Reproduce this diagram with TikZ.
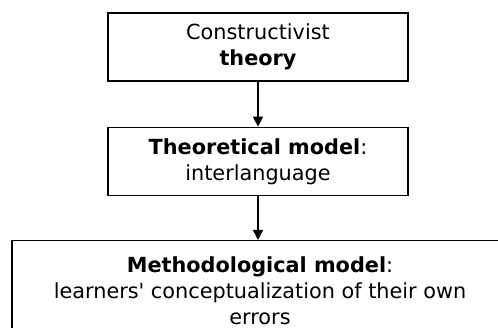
\documentclass[tikz,border=0pt]{standalone}
\usepackage{fontspec}
\setmainfont{DejaVu Sans}
\usetikzlibrary{arrows.meta, positioning}

\begin{document}
\begin{tikzpicture}[
    x=1pt, y=1pt,
    node distance=45pt,
    block/.style={rectangle, draw, line width=1.3pt, minimum width=300pt, minimum height=68pt, align=center, inner sep=0pt, font=\fontsize{20.8}{26}\selectfont},
    arrow/.style={-{Triangle[length=10pt, width=10pt]}, line width=1.3pt}
]
\useasboundingbox (0,0) rectangle (498,-328);
\clip (0,0) rectangle (498,-328);

% Theory
\node[block] (theory) at (258,-47) {Constructivist\\\textbf{theory}};

% Theoretical model
\node[block, below=45pt of theory] (theomodel) {\textbf{Theoretical model}:\\interlanguage};

% Methodological model
\node[block, anchor=north, minimum width=496pt, minimum height=100pt] (methmodel) at (260,-240) {\textbf{Methodological model}:\\learners\textquotesingle{} conceptualization of their own\\errors};

% Arrows
\draw[arrow] (theory) -- (theomodel);
\draw[arrow] (theomodel) -- (theomodel.south |- methmodel.north);

\end{tikzpicture}
\end{document}
